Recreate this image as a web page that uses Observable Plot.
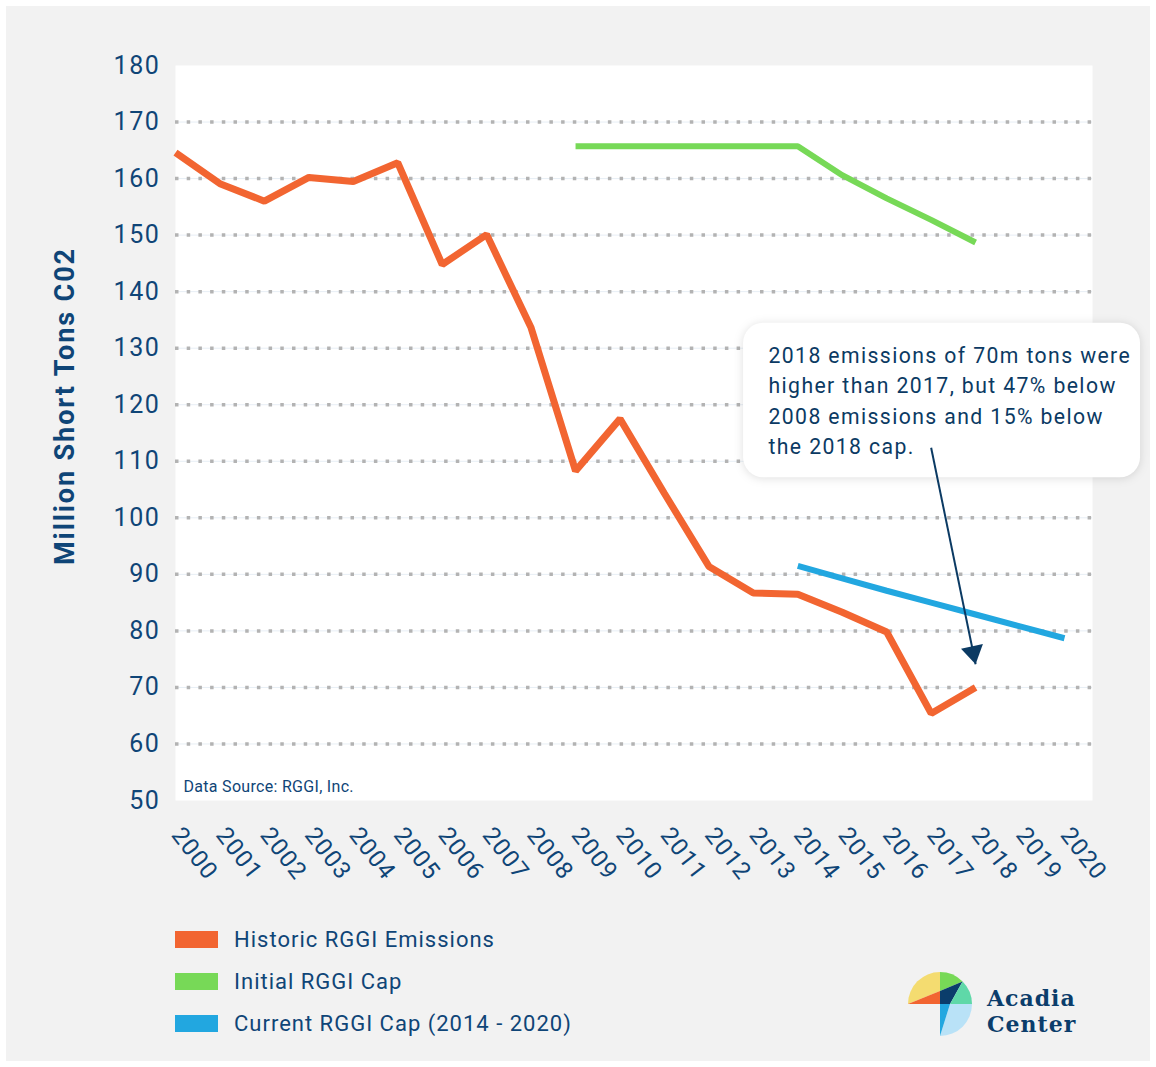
<!DOCTYPE html>
<html>
<head>
<meta charset="utf-8">
<script src="https://cdn.jsdelivr.net/npm/d3@7"></script>
<script src="https://cdn.jsdelivr.net/npm/@observablehq/plot@0.6"></script>
<style>
  body { margin: 0; background: #ffffff; font-family: Roboto, "Liberation Sans", sans-serif; }
  #wrap { position: relative; width: 1156px; height: 1067px; overflow: hidden; }
  #bg { position: absolute; left: 6px; top: 6px; width: 1144px; height: 1055px; background: #f2f2f2; }
  #chart { position: absolute; left: 0; top: 0; }
  g[aria-description="callout"] { filter: drop-shadow(0 1px 5px rgba(0,0,0,0.13)); }
  g[aria-description="callout-text"] text { letter-spacing: 1.4px; }
  g[aria-description="y-ticks"] text { letter-spacing: 1.6px; }
  g[aria-description="x-ticks"] text { letter-spacing: 1.2px; }
  g[aria-description="y-title"] text { letter-spacing: 1.9px; }
  g[aria-description="source"] text { letter-spacing: 0.3px; }
  .legend { position: absolute; left: 175px; top: 922px; }
  .item { position: absolute; left: 0; display: flex; align-items: center; height: 34px; white-space: nowrap; }
  .sw { width: 43px; height: 17px; margin-right: 16px; }
  .lab { font-size: 22px; color: #0f4577; letter-spacing: 1px; }
  #logo { position: absolute; left: 900px; top: 965px; }
</style>
</head>
<body>
<div id="wrap">
  <div id="bg"></div>
  <div id="chart"></div>
  <div class="legend" id="legend"></div>
  <svg id="logo" width="250" height="85" viewBox="900 965 250 85">
    <path d="M908,1004 A32,32 0 0,1 940,972 L940,991 Z" fill="#f4dc70"/>
    <path d="M908,1004 L940,991 L940,1004 Z" fill="#f26531"/>
    <path d="M940,972 A32,32 0 0,1 962.6,981.4 L940,991 Z" fill="#77d957"/>
    <path d="M940,991 L962.6,981.4 L950,1004 L940,1004 Z" fill="#0b3d6b"/>
    <path d="M962.6,981.4 A32,32 0 0,1 972,1004 L950,1004 Z" fill="#5fd8a8"/>
    <path d="M950,1004 L972,1004 A32,32 0 0,1 940,1036 Z" fill="#b9e2f7"/>
    <path d="M940,1004 L950,1004 L940,1036 Z" fill="#22a7e0"/>
    <text x="987" y="1006" font-family="'DejaVu Serif', serif" font-weight="bold" font-size="22" letter-spacing="1" fill="#0b3d6b">Acadia</text>
    <text x="987" y="1032" font-family="'DejaVu Serif', serif" font-weight="bold" font-size="22" letter-spacing="1" fill="#0b3d6b">Center</text>
  </svg>
</div>
<script>
// ---- data ----
const xTicks = [2000, 2001, 2002, 2003, 2004, 2005, 2006, 2007, 2008, 2009, 2010,
                2011, 2012, 2013, 2014, 2015, 2016, 2017, 2018, 2019, 2020];
const yTicks = [50, 60, 70, 80, 90, 100, 110, 120, 130, 140, 150, 160, 170, 180];
const gridValues = [60, 70, 80, 90, 100, 110, 120, 130, 140, 150, 160, 170];

const historicYears = [2000, 2001, 2002, 2003, 2004, 2005, 2006, 2007, 2008, 2009,
                       2010, 2011, 2012, 2013, 2014, 2015, 2016, 2017, 2018];
const historicValues = [164.6, 159.1, 156.0, 160.2, 159.5, 162.8, 144.8, 150.1, 133.6, 108.3,
                        117.5, 104.3, 91.4, 86.7, 86.5, 83.3, 79.8, 65.4, 70.0];

const initialCapYears = [2009, 2010, 2011, 2012, 2013, 2014, 2015, 2016, 2017, 2018];
const initialCapValues = [165.7, 165.7, 165.7, 165.7, 165.7, 165.7, 160.6, 156.5, 152.7, 148.7];

const currentCapYears = [2014, 2015, 2016, 2017, 2018, 2019, 2020];
const currentCapValues = [91.5, 89.3, 87.1, 85.0, 82.9, 80.8, 78.7];

const seriesNames = ["Historic RGGI Emissions", "Initial RGGI Cap", "Current RGGI Cap (2014 - 2020)"];
const seriesColors = ["#f26531", "#77d957", "#22a7e0"];

const yTitle = "Million Short Tons C02";
const sourceNote = "Data Source: RGGI, Inc.";
const calloutText = "2018 emissions of 70m tons were\nhigher than 2017, but 47% below\n2008 emissions and 15% below\nthe 2018 cap.";
// callout anchored in data units
const calloutBox = [{x1: 2012.78, x2: 2021.71, y1: 107.1, y2: 134.4}];
const calloutAnchor = [{x: 2013.34, y: 131.2}];
const arrowLink = [{x1: 2017.0, y1: 112.4, x2: 2018.0, y2: 74.1}];

// ---- tables ----
const historic = historicYears.map((year, i) => ({year, value: historicValues[i]}));
const initialCap = initialCapYears.map((year, i) => ({year, value: initialCapValues[i]}));
const currentCap = currentCapYears.map((year, i) => ({year, value: currentCapValues[i]}));

const navy = "#0f4577";
const textNavy = "#0b3a63";

// arrowhead pointing along the arrow direction (tip at origin)
const headSymbol = {
  draw(ctx) {
    ctx.moveTo(0, 0);
    ctx.lineTo(7.3, -20.2);
    ctx.lineTo(-14.6, -15.6);
    ctx.closePath();
  }
};

const chart = Plot.plot({
  width: 1156,
  height: 900,
  marginLeft: 175,
  marginRight: 64,
  marginTop: 65,
  marginBottom: 100,
  style: {background: "transparent", fontFamily: "Roboto, 'Liberation Sans', sans-serif", color: navy, overflow: "visible"},
  x: {domain: [2000, 2020.63], axis: null},
  y: {domain: [50, 180], axis: null},
  marks: [
    Plot.frame({fill: "white", stroke: null}),
    Plot.ruleY(gridValues, {stroke: "#e7eef5", strokeWidth: 1}),
    Plot.ruleY(gridValues, {stroke: "#b3b3b3", strokeWidth: 3.5, strokeDasharray: "3.5 8.2"}),
    Plot.axisY({ticks: yTicks, tickSize: 0, tickPadding: 15, fontSize: 25, fill: navy, label: null,
      ariaDescription: "y-ticks"}),
    Plot.text(xTicks, {x: d => d, frameAnchor: "bottom", text: d => String(d), rotate: 52,
      textAnchor: "start", lineAnchor: "middle", dx: 1, dy: 30, fontSize: 24, fill: navy,
      ariaDescription: "x-ticks"}),
    Plot.text([yTitle], {frameAnchor: "left", rotate: -90, dx: -110, dy: -27, fontSize: 27,
      fontWeight: "bold", fill: navy, textAnchor: "middle", ariaDescription: "y-title"}),
    Plot.text([sourceNote], {frameAnchor: "bottom-left", dx: 8, dy: -14, fontSize: 16, fill: navy,
      textAnchor: "start", lineAnchor: "middle", ariaDescription: "source"}),
    Plot.line(historic, {x: "year", y: "value", stroke: seriesColors[0], strokeWidth: 7,
      strokeLinejoin: "miter", strokeLinecap: "butt"}),
    Plot.line(initialCap, {x: "year", y: "value", stroke: seriesColors[1], strokeWidth: 6,
      strokeLinejoin: "miter", strokeLinecap: "butt"}),
    Plot.line(currentCap, {x: "year", y: "value", stroke: seriesColors[2], strokeWidth: 6,
      strokeLinejoin: "miter", strokeLinecap: "butt"}),
    Plot.rect(calloutBox, {x1: "x1", x2: "x2", y1: "y1", y2: "y2", fill: "white", rx: 20,
      ariaDescription: "callout"}),
    Plot.text(calloutAnchor, {x: "x", y: "y", text: () => calloutText, textAnchor: "start",
      lineAnchor: "top", lineHeight: 1.43, fontSize: 21.2, fill: textNavy, ariaDescription: "callout-text"}),
    Plot.link(arrowLink, {x1: "x1", y1: "y1", x2: "x2", y2: "y2", stroke: textNavy, strokeWidth: 2}),
    Plot.dot(arrowLink, {x: "x2", y: "y2", symbol: headSymbol, fill: textNavy, stroke: null, r: 5})
  ]
});
document.getElementById("chart").appendChild(chart);

// legend
const legend = document.getElementById("legend");
seriesNames.forEach((name, i) => {
  const item = document.createElement("div");
  item.className = "item";
  item.style.top = (i * 42) + "px";
  const sw = document.createElement("div");
  sw.className = "sw";
  sw.style.background = seriesColors[i];
  const lab = document.createElement("span");
  lab.className = "lab";
  lab.textContent = name;
  item.appendChild(sw);
  item.appendChild(lab);
  legend.appendChild(item);
});
</script>
</body>
</html>
